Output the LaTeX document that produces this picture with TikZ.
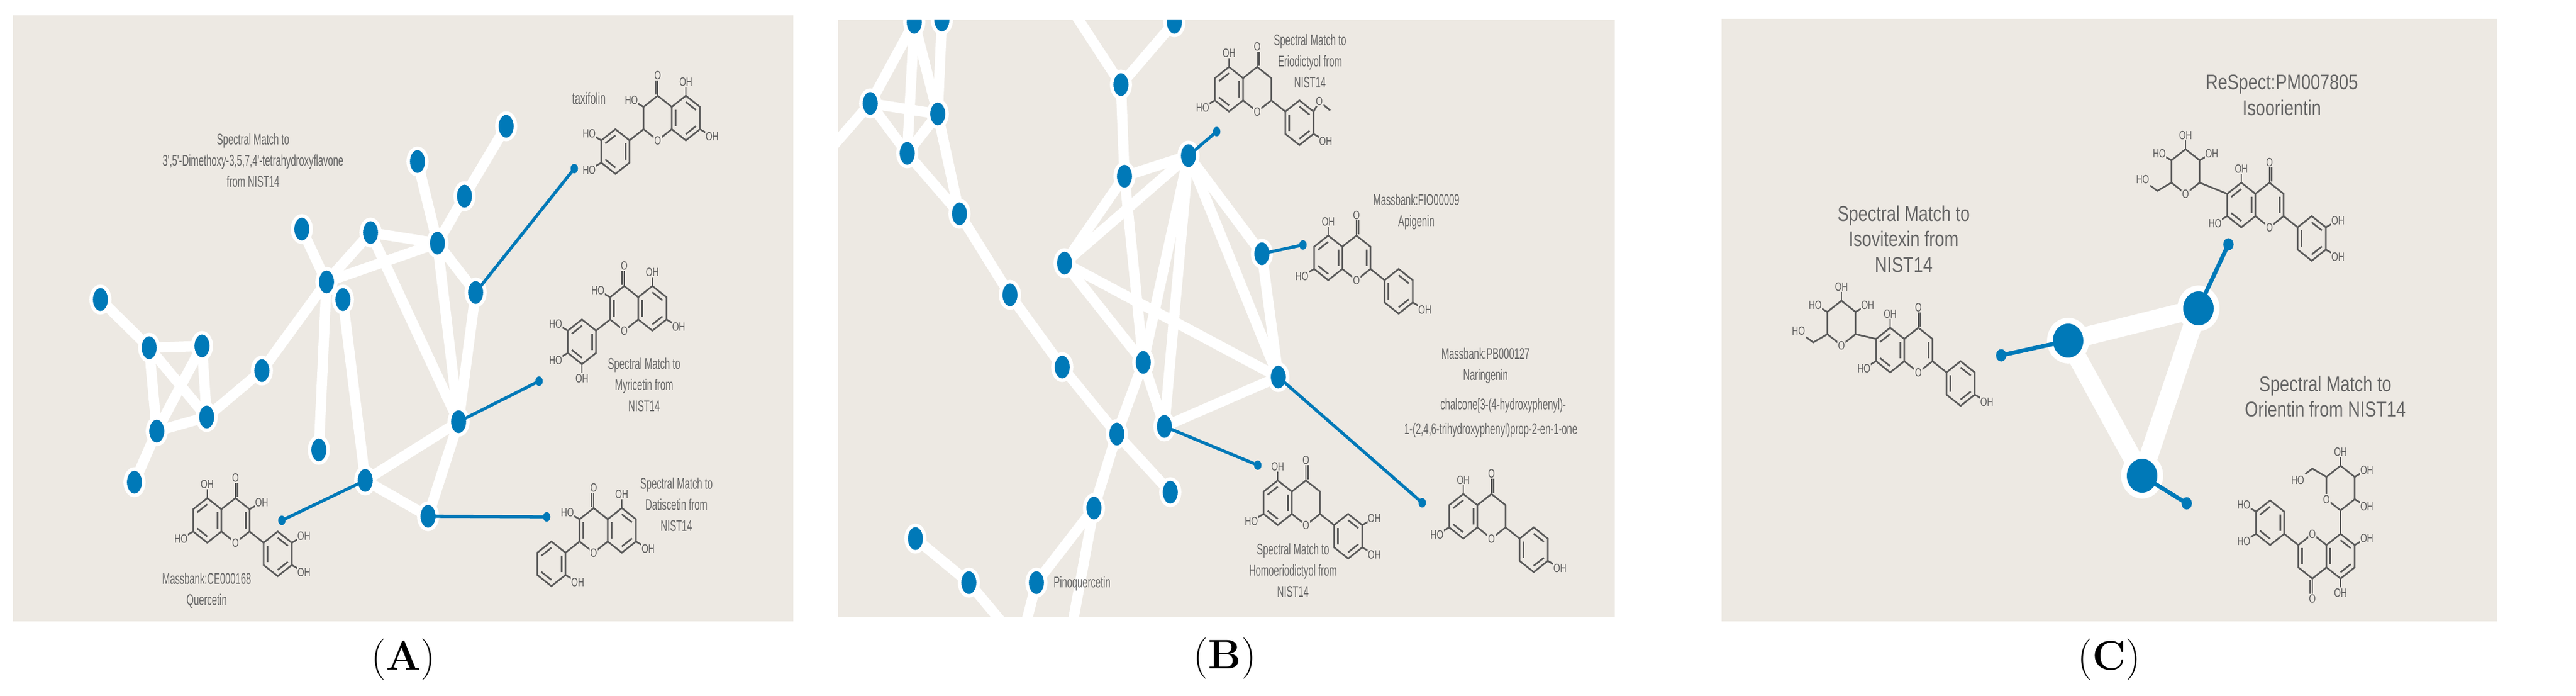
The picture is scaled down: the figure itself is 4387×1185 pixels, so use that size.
\documentclass[tikz,border=0pt]{standalone}
\usepackage{fontspec}
\usetikzlibrary{shapes.geometric,calc}
\newfontfamily\lsans{Liberation Sans}
\definecolor{bgc}{HTML}{EDE9E3}
\definecolor{nblue}{HTML}{0079B8}
\definecolor{tgray}{HTML}{666666}
\definecolor{mgray}{HTML}{5A5A5A}
\tikzset{
 mol/.style={draw=mgray,line width=0.8pt},
 atom/.style={font=\lsans\fontsize{5.8}{6}\selectfont,text=mgray,fill=bgc,inner sep=0.4pt,xscale=0.72},
 lbl/.style={font=\lsans\fontsize{7.5}{10.2}\selectfont,text=tgray,align=center,xscale=0.6},
 lblC/.style={font=\lsans\fontsize{10.3}{12.4}\selectfont,text=tgray,align=center,xscale=0.8},
 nd/.style={ellipse,fill=nblue,draw=white,line width=1.7pt,minimum width=9pt,minimum height=12.8pt,inner sep=0pt},
 ndC/.style={ellipse,fill=nblue,draw=white,line width=2.8pt,minimum width=17.6pt,minimum height=19.3pt,inner sep=0pt},
 wedge/.style={draw=white,line width=5pt},
 wedgeC/.style={draw=white,line width=9pt},
 bl/.style={draw=nblue,line width=1.5pt},
 bdot/.style={ellipse,fill=nblue,minimum width=3.6pt,minimum height=4.6pt,inner sep=0pt},
 mA/.style={xscale=27.7,yscale=38},
 mM/.style={xscale=-27.7,yscale=38},
 mR/.style={xscale=-27.7,yscale=-38},
 pics/flav/.style={code={
  \coordinate (-ac) at (0,0);
  \coordinate (-cc) at (1.732,0);
  \coordinate (-bc) at (4.330,-1.5);
  \foreach \i/\a in {1/90,2/30,3/-30,4/-90,5/-150,6/150}{
    \coordinate (-a\i) at (\a:1);
    \coordinate (-c\i) at ([shift={(1.732,0)}]\a:1);
    \coordinate (-b\i) at ([shift={(4.330,-1.5)}]\a:1);
  }
  \coordinate (-o) at (1.732,1.9);
  \draw[mol] (-a1)--(-a2)--(-a3)--(-a4)--(-a5)--(-a6)--cycle;
  \draw[mol] (-a2)--(-c1)--(-c2)--(-c3)--(-c4)--(-a3);
  \draw[mol] (-b1)--(-b2)--(-b3)--(-b4)--(-b5)--(-b6)--cycle;
  \draw[mol] (-c3)--(-b6);
  \draw[mol] (-c1)--(-o);
  \draw[mol] ($(-c1)+(0.13,0.05)$)--($(-o)+(0.13,0)$);
  \foreach \r/\p/\q in {a/2/3,a/4/5,a/6/1,b/1/2,b/3/4,b/5/6}{
    \draw[mol] ($(-\r c)!0.72!(-\r\p)$)--($(-\r c)!0.72!(-\r\q)$);
  }
 }},
 pics/sugar/.style={code={
  \coordinate (-sc) at (0,0);
  \foreach \i/\a in {1/90,2/30,3/-30,4/-90,5/-150,6/150}{
    \coordinate (-s\i) at (\a:1);
  }
  \draw[mol] (-s1)--(-s2)--(-s3)--(-s4)--(-s5)--(-s6)--cycle;
 }}
}
\newcommand\sub[3]{\draw[mol] (#1)--++(#2:15); \node[atom] at ($(#1)+(#2:24)$) {#3};}
\newcommand\dbl[1]{\draw[mol] ($(#1-cc)!0.72!(#1-c2)$)--($(#1-cc)!0.72!(#1-c3)$);}
\newcommand\flavO[1]{\node[atom] at (#1-c4) {O}; \node[atom] at (#1-o) {O};}
\begin{document}
\begin{tikzpicture}[x=0.01cm,y=0.01cm]
\useasboundingbox (0,0) rectangle (4387,-1185);
\fill[white] (0,0) rectangle (4387,-1185);
% backgrounds
\fill[bgc] (22,-26) rectangle (1351,-1058);
\fill[bgc] (1427,-34) rectangle (2750,-1051);
\fill[bgc] (2932,-32) rectangle (4253,-1058);
\node[font=\fontsize{20}{24}\selectfont] (labA) at (687,-1123) {(\textbf{A})};
\node[font=\fontsize{20}{24}\selectfont] (labB) at (2086,-1121) {(\textbf{B})};
\node[font=\fontsize{20}{24}\selectfont] (labC) at (3592,-1123) {(\textbf{C})};

% ===== Panel A =====
\foreach \n/\x/\y in {1/171/510,2/254/592,3/344/589,4/267/734,5/352/710,6/229/821,7/446/631,8/514/390,9/556/480,10/584/510,11/631/396,12/745/414,13/711/275,14/791/334,15/862/215,16/810/498,17/543/766,18/781/718,19/622/818,20/729/879}
  \coordinate (pA\n) at (\x,-\y);
\foreach \u/\v in {1/2,2/3,2/5,2/4,3/4,3/5,4/5,4/6,5/7,7/9,8/9,9/12,11/12,9/17,10/19,9/11,13/12,12/14,14/15,12/16,16/18,11/18,12/18,18/19,18/20,19/20}
  \draw[wedge] (pA\u)--(pA\v);
\foreach \n in {1,...,20} \node[nd] (A\n) at (pA\n) {};
\coordinate (eA1) at (978,-287);
\coordinate (eA2) at (918,-649);
\coordinate (eA3) at (480,-886);
\coordinate (eA4) at (931,-880);
\foreach \a/\b in {16/eA1,18/eA2,19/eA3,20/eA4}{
  \draw[bl] (A\a.center)--(\b); \node[bdot] at (\b) {};}

\node[lbl] (tA1) at (431,-273) {Spectral Match to\\3',5'-Dimethoxy-3,5,7,4'-tetrahydroxyflavone\\from NIST14};
\node[lbl,font=\lsans\fontsize{8}{10}\selectfont] (tA2) at (1003,-167) {taxifolin};
\node[lbl] (tA3) at (1097,-655) {Spectral Match to\\Myricetin from\\NIST14};
\node[lbl] (tA4) at (1152,-859) {Spectral Match to\\Datiscetin from\\NIST14};
\node[lbl] (tA5) at (352,-1005) {Massbank:CE000168\\Quercetin};

% quercetin
\pic[mA] (q) at (353,-886) {flav}; \dbl{q}
\flavO{q} \sub{q-a1}{90}{OH} \sub{q-a5}{-150}{HO} \sub{q-c2}{30}{OH} \sub{q-b2}{30}{OH} \sub{q-b3}{-30}{OH}
% taxifolin
\pic[mM] (t) at (1168,-201) {flav};
\flavO{t} \sub{t-a1}{90}{OH} \sub{t-a5}{-30}{OH} \sub{t-c2}{150}{HO} \sub{t-b2}{150}{HO} \sub{t-b3}{-150}{HO}
% myricetin
\pic[mM] (m) at (1111,-525) {flav}; \dbl{m}
\flavO{m} \sub{m-a1}{90}{OH} \sub{m-a5}{-30}{OH} \sub{m-c2}{150}{HO} \sub{m-b2}{150}{HO} \sub{m-b3}{-150}{HO} \sub{m-b4}{-90}{OH}
% datiscetin
\pic[mM] (d) at (1059,-903) {flav}; \dbl{d}
\flavO{d} \sub{d-a1}{90}{OH} \sub{d-a5}{-30}{OH} \sub{d-c2}{150}{HO} \sub{d-b5}{-30}{OH}

% ===== Panel B =====
\begin{scope}
\clip (1427,-34) rectangle (2750,-1051);
\foreach \n/\x/\y in {1/1557/38,2/1604/34,3/1482/176,4/1597/194,5/1545/261,6/1634/364,7/1720/502,8/1809/625,9/1902/739,10/1863/865,11/1993/838,12/1559/917,13/1650/992,14/1765/992,15/2000/38,16/1909/144,17/1915/300,18/2024/265,19/1813/448,20/2149/432,21/1947/617,22/2177/642,23/1983/726}
  \coordinate (pB\n) at (\x,-\y);
\coordinate (xB1) at (1400,-270);
\coordinate (xB2) at (1825,-1070);
\coordinate (xB3) at (1715,-1070);
\coordinate (xB4) at (1745,-1070);
\coordinate (xB5) at (1815,0);
\coordinate (xB6) at (1580,0);
\coordinate (xB7) at (1620,0);
\foreach \u/\v in {1/3,1/5,1/4,2/4,3/4,3/5,4/5,4/6,5/6,6/7,7/8,8/9,9/11,9/10,9/21,10/14,12/13,15/16,16/17,17/18,17/19,17/21,18/19,18/20,18/22,18/21,18/23,19/21,19/22,20/22,22/23,21/23}
  \draw[wedge] (pB\u)--(pB\v);
\draw[wedge] (pB3)--(xB1);
\draw[wedge] (pB10)--(xB2);
\draw[wedge] (pB13)--(xB3);
\draw[wedge] (pB14)--(xB4);
\draw[wedge] (pB16)--(xB5);
\draw[wedge] (pB1)--(xB6);
\draw[wedge] (pB2)--(xB7);
\foreach \n in {1,...,23} \node[nd] (B\n) at (pB\n) {};
\end{scope}
\coordinate (eB1) at (2072,-224);
\coordinate (eB2) at (2219,-417);
\coordinate (eB3) at (2142,-792);
\coordinate (eB4) at (2422,-856);
\foreach \a/\b in {18/eB1,20/eB2,23/eB3,22/eB4}{
  \draw[bl] (B\a.center)--(\b); \node[bdot] at (\b) {};}

\node[lbl] (tB1) at (2231,-104) {Spectral Match to\\Eriodictyol from\\NIST14};
\node[lbl] (tB2) at (2412,-361) {Massbank:FIO00009\\Apigenin};
\node[lbl] (tB3) at (2530,-623) {Massbank:PB000127\\Naringenin};
\node[lbl] (tB4) at (2560,-691) {chalcone[3-(4-hydroxyphenyl)-};
\node[lbl] (tB5) at (2539,-733) {1-(2,4,6-trihydroxyphenyl)prop-2-en-1-one};
\node[lbl] (tB6) at (2202,-971) {Spectral Match to\\Homoeriodictyol from\\NIST14};
\node[lbl,anchor=west] (tB7) at (1787,-994) {Pinoquercetin};

% eriodictyol
\pic[mA] (e) at (2093,-152) {flav};
\flavO{e} \sub{e-a1}{90}{OH} \sub{e-a5}{-150}{HO} \sub{e-b3}{-30}{OH}
\draw[mol] (e-b2)--++(60:20) coordinate (eox) --++(-40:24);
\node[atom] at (eox) {O};
% apigenin
\pic[mA] (ap) at (2262,-439) {flav}; \dbl{ap}
\flavO{ap} \sub{ap-a1}{90}{OH} \sub{ap-a5}{-150}{HO} \sub{ap-b3}{-30}{OH}
% homoeriodictyol
\pic[mA] (h) at (2176,-856) {flav};
\flavO{h} \sub{h-a1}{90}{OH} \sub{h-a5}{-150}{HO} \sub{h-b2}{30}{OH} \sub{h-b3}{-30}{OH}
% naringenin chalcone
\pic[mA] (n) at (2492,-879) {flav};
\flavO{n} \sub{n-a1}{90}{OH} \sub{n-a5}{-150}{HO} \sub{n-b3}{-30}{OH}

% ===== Panel C =====
\coordinate (pC1) at (3522,-580);
\coordinate (pC2) at (3744,-525);
\coordinate (pC3) at (3648,-810);
\draw[wedgeC] (pC1)--(pC2);
\draw[wedgeC] (pC1)--(pC3);
\draw[wedgeC] (pC2)--(pC3);
\foreach \n in {1,2,3} \node[ndC] (C\n) at (pC\n) {};
\coordinate (eC1) at (3408,-605);
\coordinate (eC2) at (3795,-416);
\coordinate (eC3) at (3724,-857);
\foreach \a/\b in {1/eC1,2/eC2,3/eC3}{
  \draw[bl,line width=2pt] (C\a.center)--(\b); \node[bdot,minimum width=5pt,minimum height=6pt] at (\b) {};}

\node[lblC] (tC1) at (3886,-162) {ReSpect:PM007805\\Isoorientin};
\node[lblC] (tC2) at (3242,-407) {Spectral Match to\\Isovitexin from\\NIST14};
\node[lblC] (tC3) at (3960,-675) {Spectral Match to\\Orientin from NIST14};

% isovitexin
\pic[mA] (iv) at (3219,-596) {flav}; \dbl{iv}
\flavO{iv} \sub{iv-a1}{90}{OH} \sub{iv-a5}{-150}{HO} \sub{iv-b3}{-30}{OH}
\pic[mA] (sv) at (3136,-550) {sugar};
\draw[mol] (iv-a6)--(sv-s3);
\node[atom] at (sv-s4) {O};
\sub{sv-s1}{90}{OH} \sub{sv-s6}{150}{HO} \sub{sv-s2}{30}{OH}
\draw[mol] (sv-s5)--++(-24,-14)--++(-12,9) node[atom,anchor=south east] {HO};
% isoorientin
\pic[mA] (io) at (3817,-349) {flav}; \dbl{io}
\flavO{io} \sub{io-a1}{90}{OH} \sub{io-a5}{-150}{HO} \sub{io-b2}{30}{OH} \sub{io-b3}{-30}{OH}
\pic[mA] (so) at (3722,-292) {sugar};
\draw[mol] (io-a6)--(so-s3);
\node[atom] at (so-s4) {O};
\sub{so-s1}{90}{OH} \sub{so-s6}{150}{HO} \sub{so-s2}{30}{OH}
\draw[mol] (so-s5)--++(-24,-14)--++(-12,9) node[atom,anchor=south east] {HO};
% orientin
\pic[mR] (or) at (3986,-947) {flav}; \dbl{or}
\flavO{or} \sub{or-a1}{-90}{OH} \sub{or-a5}{30}{OH} \sub{or-b2}{-150}{HO} \sub{or-b3}{150}{HO}
\pic[mA] (sr) at (3986,-831) {sugar};
\draw[mol] (or-a4)--(sr-s4);
\node[atom] at (sr-s5) {O};
\sub{sr-s1}{90}{OH} \sub{sr-s2}{30}{OH} \sub{sr-s3}{-30}{OH}
\draw[mol] (sr-s6)--++(-24,14)--++(-12,-9) node[atom,anchor=north east] {HO};
\end{tikzpicture}
\end{document}
